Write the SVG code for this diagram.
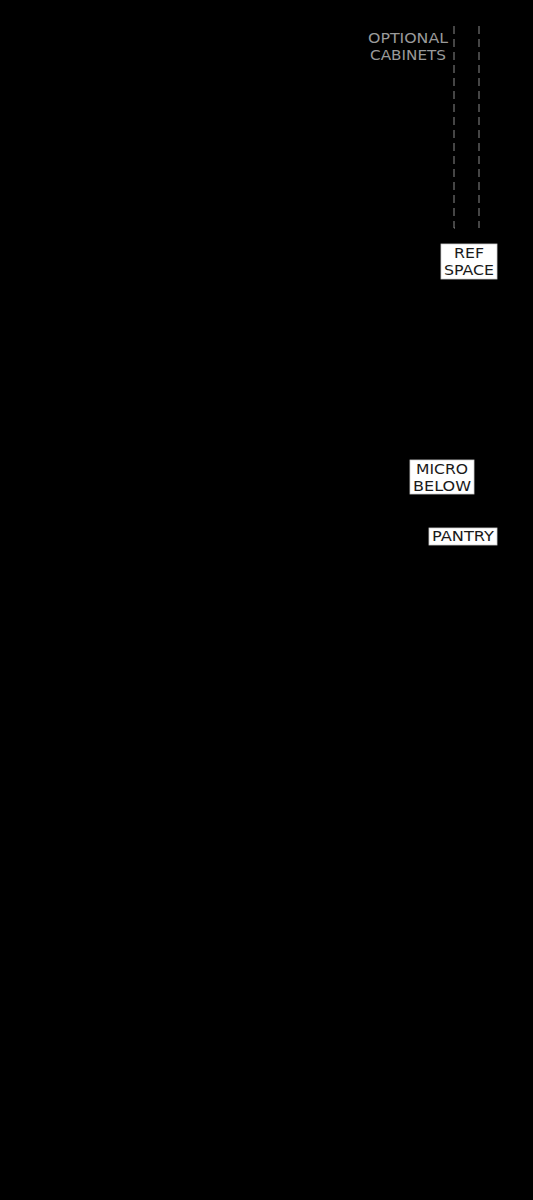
<svg xmlns="http://www.w3.org/2000/svg" width="533" height="1200" viewBox="0 0 533 1200">
<style>
.lbl{font-family:"DejaVu Sans","Liberation Sans",sans-serif;font-size:14px;fill:#1a1a1a;text-anchor:middle}
.grey{font-family:"DejaVu Sans","Liberation Sans",sans-serif;font-size:14px;fill:#9a9a9a;text-anchor:middle}
.box{fill:#ffffff;stroke:#cfcfcf;stroke-width:0.8}
.dash{fill:none;stroke:#8a8a8a;stroke-width:1;stroke-dasharray:8 5}
</style>
<rect x="0" y="0" width="533" height="1200" fill="#000"/>
<g id="connectors">
<path class="dash" d="M454 26 V228 H459"/>
<path class="dash" d="M479 26 V228"/>
</g>
<g id="optional-cabinets">
<text class="grey" x="408" y="43" textLength="80" lengthAdjust="spacingAndGlyphs">OPTIONAL</text>
<text class="grey" x="408" y="60" textLength="76" lengthAdjust="spacingAndGlyphs">CABINETS</text>
</g>
<g id="ref-space">
<rect class="box" x="441" y="244" width="56" height="35"/>
<text class="lbl" x="469" y="258" textLength="30" lengthAdjust="spacingAndGlyphs">REF</text>
<text class="lbl" x="469" y="275" textLength="50" lengthAdjust="spacingAndGlyphs">SPACE</text>
</g>
<g id="micro-below">
<rect class="box" x="410" y="460" width="64" height="34"/>
<text class="lbl" x="442" y="474" textLength="52" lengthAdjust="spacingAndGlyphs">MICRO</text>
<text class="lbl" x="442" y="491" textLength="58" lengthAdjust="spacingAndGlyphs">BELOW</text>
</g>
<g id="pantry">
<rect class="box" x="429" y="528" width="68" height="17"/>
<text class="lbl" x="463" y="541" textLength="62" lengthAdjust="spacingAndGlyphs">PANTRY</text>
</g>
</svg>
